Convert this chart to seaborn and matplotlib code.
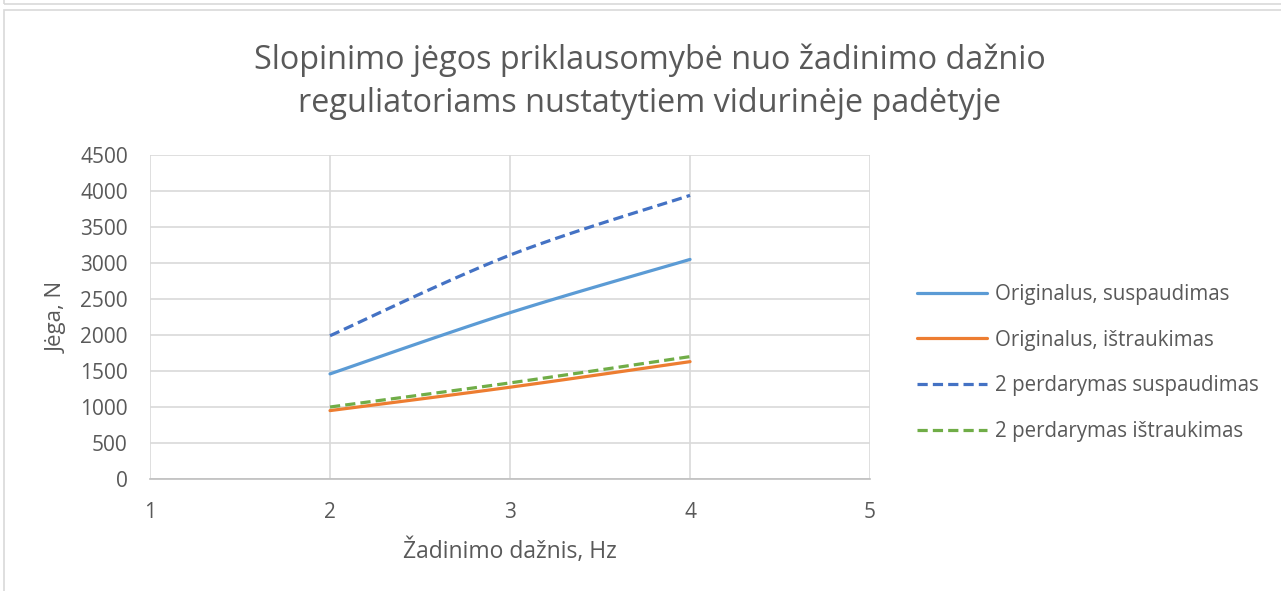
import numpy as np
import pandas as pd
import seaborn as sns
import matplotlib
matplotlib.use("Agg")
import matplotlib.pyplot as plt
from matplotlib.patches import Rectangle

# Excitation frequency, Hz
freq = [2, 3, 4]

# Damping force, N
orig_compression = [1460, 2310, 3050]
orig_extension = [950, 1275, 1630]
mod2_compression = [1990, 3110, 3940]
mod2_extension = [1000, 1335, 1700]

series_names = [
    "Originalus, suspaudimas",
    "Originalus, ištraukimas",
    "2 perdarymas suspaudimas",
    "2 perdarymas ištraukimas",
]
series_values = [orig_compression, orig_extension, mod2_compression, mod2_extension]
colors = ["#5B9BD5", "#ED7D31", "#4472C4", "#70AD47"]
dashed = [False, False, True, True]

x_ticks = [1, 2, 3, 4, 5]
y_ticks = list(range(0, 4501, 500))

title = "Slopinimo jėgos priklausomybė nuo žadinimo dažnio\nreguliatoriams nustatytiem vidurinėje padėtyje"
x_label = "Žadinimo dažnis, Hz"
y_label = "Jėga, N"


def smooth_curve(xs, ys, n=60):
    """Cubic Bezier smoothing through the points (Catmull-Rom style)."""
    xs = np.asarray(xs, float)
    ys = np.asarray(ys, float)
    px = np.concatenate([[xs[0]], xs, [xs[-1]]])
    py = np.concatenate([[ys[0]], ys, [ys[-1]]])
    out_x, out_y = [], []
    t = np.linspace(0, 1, n)
    for i in range(1, len(px) - 2):
        p0 = np.array([px[i], py[i]])
        p3 = np.array([px[i + 1], py[i + 1]])
        c1 = p0 + (np.array([px[i + 1], py[i + 1]]) - np.array([px[i - 1], py[i - 1]])) / 6
        c2 = p3 - (np.array([px[i + 2], py[i + 2]]) - np.array([px[i], py[i]])) / 6
        b = ((1 - t) ** 3)[:, None] * p0 + (3 * (1 - t) ** 2 * t)[:, None] * c1 \
            + (3 * (1 - t) * t ** 2)[:, None] * c2 + (t ** 3)[:, None] * p3
        if i > 1:
            b = b[1:]
        out_x.extend(b[:, 0])
        out_y.extend(b[:, 1])
    return np.array(out_x), np.array(out_y)


sns.set_theme(style="white")
plt.rcParams["font.family"] = ["Open Sans", "DejaVu Sans"]

fig = plt.figure(figsize=(12.81, 5.91), dpi=100)
ax = fig.add_axes([0.1171, 0.1895, 0.5621, 0.5482])

frames = []
for name, vals in zip(series_names, series_values):
    sx, sy = smooth_curve(freq, vals)
    frames.append(pd.DataFrame({"x": sx, "y": sy, "series": name}))
df = pd.concat(frames, ignore_index=True)

for name, col in zip(series_names, colors):
    sub = df[df["series"] == name]
    sns.lineplot(data=sub, x="x", y="y", color=col, linewidth=2.3, label=name,
                 sort=False, ax=ax)
for line, dsh in zip(ax.get_lines(), dashed):
    line.set_solid_capstyle("round")
    if dsh:
        line.set_linestyle((0, (3.2, 1.6)))
        line.set_dash_capstyle("butt")

ax.set_xlim(1, 5)
ax.set_ylim(0, 4500)
ax.set_xticks(x_ticks)
ax.set_yticks(y_ticks)
ax.set_xticklabels([str(v) for v in x_ticks])
ax.set_yticklabels([str(v) for v in y_ticks])
ax.grid(True, color="#D9D9D9", linewidth=1.2)
ax.set_axisbelow(True)
for s in ["top", "right", "left"]:
    ax.spines[s].set_visible(False)
ax.spines["bottom"].set_color("#BFBFBF")
ax.spines["bottom"].set_linewidth(1.2)
ax.tick_params(axis="both", length=0, labelsize=15, labelcolor="#595959")
ax.tick_params(axis="x", pad=16.5)
ax.tick_params(axis="y", pad=16)

ax.set_xlabel(x_label, fontsize=16.5, color="#595959", labelpad=11)
ax.set_ylabel(y_label, fontsize=16, color="#595959", labelpad=9)

fig.text(0.507, 0.862, title, ha="center", va="center", fontsize=23.3,
         color="#595959", linespacing=1.38)

leg = ax.legend(loc="center left", bbox_to_anchor=(1.04, 0.358), frameon=False,
                fontsize=14.8, handlelength=3.4, labelspacing=1.2, handletextpad=0.4)
for t in leg.get_texts():
    t.set_color("#595959")

# chart frame borders
fig.patches.append(Rectangle((0.003, -0.05), 1.2, 1.033, transform=fig.transFigure,
                             fill=False, edgecolor="#D9D9D9", linewidth=1.2))
fig.patches.append(Rectangle((0.003, 0.993), 1.2, 0.2, transform=fig.transFigure,
                             fill=False, edgecolor="#D9D9D9", linewidth=1.2))

fig.savefig("out.png", dpi=100)
